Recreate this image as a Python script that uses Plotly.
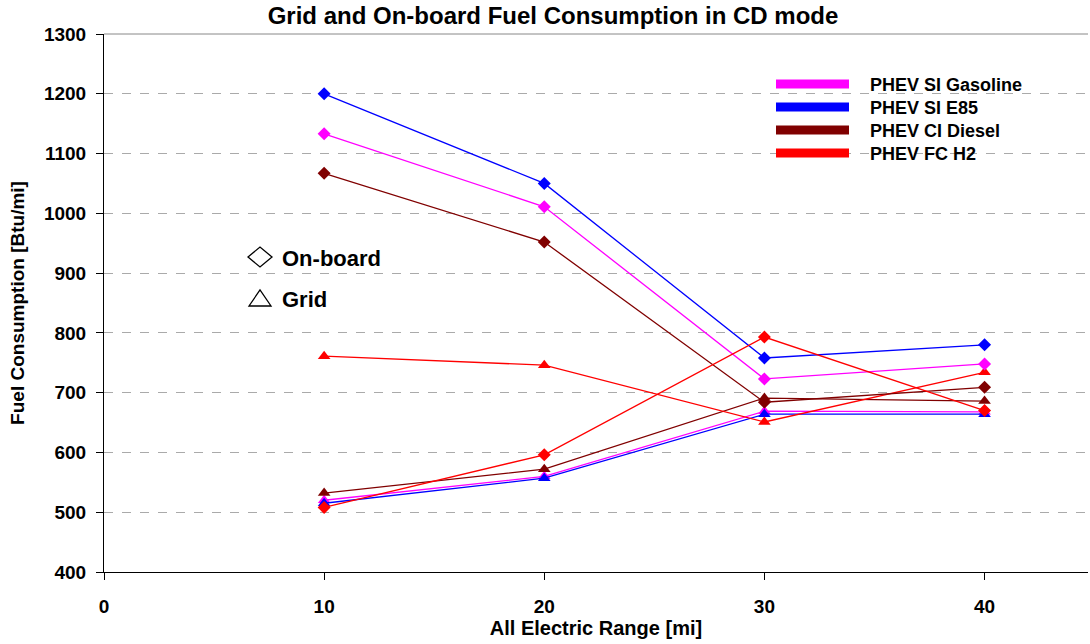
import plotly.graph_objects as go

# All Electric Range [mi]
aer = [10, 20, 30, 40]

series_names = ["PHEV SI Gasoline", "PHEV SI E85", "PHEV CI Diesel", "PHEV FC H2"]
series_colors = ["#FF00FF", "#0000FF", "#800000", "#FF0000"]

# On-board fuel consumption [Btu/mi]
onboard_gasoline = [1133, 1011, 723, 748]
onboard_e85 = [1200, 1050, 758, 780]
onboard_diesel = [1067, 952, 684, 709]
onboard_h2 = [508, 596, 793, 670]

# Grid electricity consumption [Btu/mi]
grid_gasoline = [520, 560, 669, 668]
grid_e85 = [515, 557, 664, 664]
grid_diesel = [532, 572, 691, 686]
grid_h2 = [761, 746, 651, 734]

onboard = [onboard_gasoline, onboard_e85, onboard_diesel, onboard_h2]
grid = [grid_gasoline, grid_e85, grid_diesel, grid_h2]

y_ticks = [400, 500, 600, 700, 800, 900, 1000, 1100, 1200, 1300]
x_ticks = [0, 10, 20, 30, 40]

FONT = "Liberation Sans, Arial, sans-serif"
W, H = 1090, 644
L, R, T, B = 104, 2, 34, 72


def px(xp):
    return (xp - L) / (W - L - R)


def py(yp):
    return (H - B - yp) / (H - T - B)


fig = go.Figure()

for name, color, vals in zip(series_names, series_colors, grid):
    fig.add_trace(go.Scatter(
        x=aer, y=vals, mode="lines+markers", name=name + " grid",
        line=dict(color=color, width=1.3),
        marker=dict(symbol="triangle-up", size=11, color=color),
        showlegend=False,
    ))

for name, color, vals in zip(series_names, series_colors, onboard):
    fig.add_trace(go.Scatter(
        x=aer, y=vals, mode="lines+markers", name=name + " on-board",
        line=dict(color=color, width=1.3),
        marker=dict(symbol="diamond", size=10, color=color),
        showlegend=False,
    ))

shapes = []
annotations = []

# plot-area top border
shapes.append(dict(type="line", xref="paper", yref="paper", x0=0, x1=1, y0=1, y1=1,
                   line=dict(color="#888888", width=1)))

# legend swatches and labels
legend_rows = [84, 107, 130, 153]
for name, color, row in zip(series_names, series_colors, legend_rows):
    shapes.append(dict(type="rect", xref="paper", yref="paper",
                       x0=px(776), x1=px(849), y0=py(row + 4.5), y1=py(row - 4.5),
                       fillcolor=color, line=dict(width=0)))
    annotations.append(dict(xref="paper", yref="paper", x=px(868), y=py(row + 0.5),
                            text=name, showarrow=False, xanchor="left", yanchor="middle",
                            font=dict(family=FONT, size=18, color="black", weight="bold")))

# marker-shape key
dx, dy = 12, 10
cx, cy = 260, 257
shapes.append(dict(type="path", xref="paper", yref="paper",
                   path=f"M {px(cx - dx)},{py(cy)} L {px(cx)},{py(cy - dy)} L {px(cx + dx)},{py(cy)} "
                        f"L {px(cx)},{py(cy + dy)} Z",
                   line=dict(color="black", width=1.3)))
tx, ty = 260, 298
shapes.append(dict(type="path", xref="paper", yref="paper",
                   path=f"M {px(tx - 11)},{py(ty + 8)} L {px(tx)},{py(ty - 8)} L {px(tx + 11)},{py(ty + 8)} Z",
                   line=dict(color="black", width=1.3)))
annotations.append(dict(xref="paper", yref="paper", x=px(280), y=py(258), text="On-board",
                        showarrow=False, xanchor="left", yanchor="middle",
                        font=dict(family=FONT, size=22, color="black", weight="bold")))
annotations.append(dict(xref="paper", yref="paper", x=px(280), y=py(299), text="Grid",
                        showarrow=False, xanchor="left", yanchor="middle",
                        font=dict(family=FONT, size=22, color="black", weight="bold")))

tick_font = dict(family=FONT, size=19, color="black", weight="bold")

fig.update_layout(
    width=W, height=H,
    margin=dict(l=L, r=R, t=T, b=B),
    paper_bgcolor="white", plot_bgcolor="white",
    title=dict(text="Grid and On-board Fuel Consumption in CD mode",
               x=553 / W, xanchor="center", y=1 - 16 / H, yanchor="middle",
               font=dict(family=FONT, size=24, color="black", weight="bold")),
    shapes=shapes,
    annotations=annotations,
    xaxis=dict(range=[0, 44.7], tickvals=x_ticks, ticktext=[str(v) for v in x_ticks],
               showgrid=False, zeroline=False, showline=True, linecolor="black", linewidth=1,
               ticks="outside", ticklen=7, tickcolor="black", ticklabelstandoff=10,
               tickfont=tick_font,
               title=dict(text="All Electric Range [mi]", standoff=4,
                          font=dict(family=FONT, size=20, color="black", weight="bold"))),
    yaxis=dict(range=[400, 1300], tickvals=y_ticks, ticktext=[str(v) for v in y_ticks],
               showgrid=True, gridcolor="#AAAAAA", griddash="dash", gridwidth=1,
               zeroline=False, showline=True, linecolor="black", linewidth=1,
               ticks="outside", ticklen=7, tickcolor="black", ticklabelstandoff=6,
               tickfont=tick_font,
               title=dict(text="Fuel Consumption [Btu/mi]", standoff=14,
                          font=dict(family=FONT, size=19, color="black", weight="bold"))),
)

fig.write_html("out.html")
